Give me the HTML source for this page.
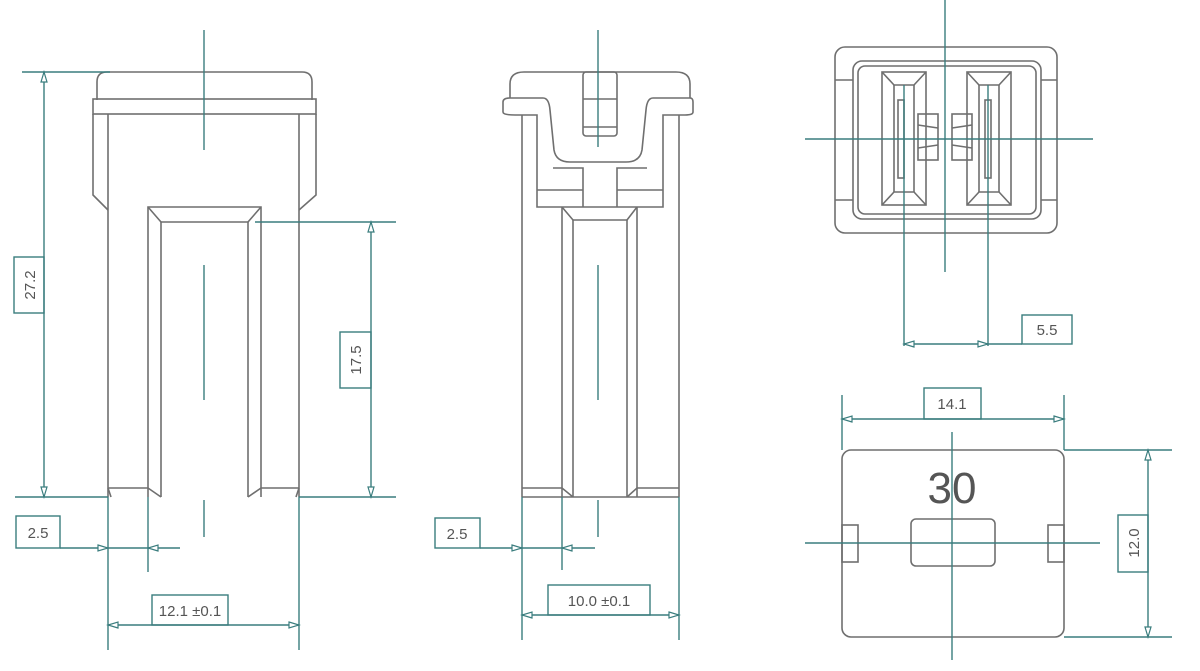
<!DOCTYPE html>
<html><head><meta charset="utf-8"><style>
html,body{margin:0;padding:0;background:#fff;}
svg{display:block;}
text{font-family:"Liberation Sans",sans-serif;fill:#555;}
</style></head><body>
<svg width="1200" height="671" viewBox="0 0 1200 671" xmlns="http://www.w3.org/2000/svg">
<defs>
<marker id="a" viewBox="0 0 10 8" refX="10" refY="4" markerWidth="14" markerHeight="8" markerUnits="userSpaceOnUse" orient="auto-start-reverse">
<path d="M0,1 L10,4 L0,7 Z" fill="#fff" stroke="#3a7d7e" stroke-width="1.2"/>
</marker>
</defs>
<g fill="none" stroke="#6f6f6f" stroke-width="1.6">
<!-- LEFT VIEW -->
<path d="M97,100 L97,82 Q97,72 107,72 L302,72 Q312,72 312,82 L312,100"/>
<rect x="93" y="99" width="223" height="15"/>
<path d="M93,114 L93,195 L108,210"/>
<path d="M316,114 L316,195 L299,210"/>
<line x1="108" y1="114" x2="108" y2="497"/>
<line x1="299" y1="114" x2="299" y2="497"/>
<path d="M148,497 L148,207 L261,207 L261,497"/>
<path d="M161,497 L161,222 L248,222 L248,497"/>
<path d="M148,207 L161,222 M261,207 L248,222"/>
<path d="M108,488 L148,488 L161,497 M299,488 L261,488 L248,497"/>
<path d="M108,488 L111,497 M299,488 L296,497"/>
<!-- MIDDLE VIEW -->
<path d="M510,98 L510,84 Q510,72 524,72 L676,72 Q690,72 690,84 L690,98"/>
<path d="M503,112 L503,102 Q503,98 510,98 L543,98 Q549,98 550,110 L554,150 Q556,162 570,162 L626,162 Q640,162 642,150 L646,110 Q647,98 653,98 L690,98 Q693,98 693,102 L693,112 Q693,115 685,115 L663,115 L663,207 L537,207 L537,115 L515,115 Q503,115 503,112 Z"/>
<rect x="583" y="72" width="34" height="64" rx="3"/>
<path d="M583,99 L617,99 M583,127 L617,127"/>
<path d="M553,168 L583,168 L583,207 M617,207 L617,168 L647,168"/>
<path d="M537,190 L583,190 M617,190 L663,190"/>
<line x1="522" y1="115" x2="522" y2="497"/>
<line x1="679" y1="115" x2="679" y2="497"/>
<path d="M562,497 L562,207 M637,497 L637,207"/>
<path d="M573,497 L573,220 L627,220 L627,497"/>
<path d="M562,207 L573,220 M637,207 L627,220"/>
<path d="M522,488 L562,488 L573,497 M679,488 L637,488 L627,497 M522,497 L679,497"/>
<!-- TOP RIGHT VIEW -->
<rect x="835" y="47" width="222" height="186" rx="10"/>
<rect x="853" y="61" width="188" height="158" rx="9"/>
<rect x="858" y="66" width="178" height="148" rx="7"/>
<path d="M835,80 L853,80 M835,200 L853,200 M1041,80 L1057,80 M1041,200 L1057,200"/>
<rect x="882" y="72" width="44" height="133"/>
<path d="M882,72 L894,85 L914,85 L926,72 M882,205 L894,192 L914,192 L926,205"/>
<path d="M894,85 L894,192 M914,85 L914,192"/>
<rect x="898" y="100" width="6" height="78"/>
<rect x="918" y="114" width="20" height="46"/>
<path d="M918,125 L938,128 M918,148 L938,145"/>
<rect x="967" y="72" width="44" height="133"/>
<path d="M967,72 L979,85 L999,85 L1011,72 M967,205 L979,192 L999,192 L1011,205"/>
<path d="M979,85 L979,192 M999,85 L999,192"/>
<rect x="985" y="100" width="6" height="78"/>
<rect x="952" y="114" width="20" height="46"/>
<path d="M952,128 L972,125 M952,145 L972,148"/>
<!-- BOTTOM RIGHT VIEW -->
<rect x="842" y="450" width="222" height="187" rx="9"/>
<rect x="842" y="525" width="16" height="37"/>
<rect x="1048" y="525" width="16" height="37"/>
<rect x="911" y="519" width="84" height="47" rx="5"/>
</g>
<text x="952" y="503" font-size="44" text-anchor="middle" fill="#666">30</text>

<g fill="none" stroke="#3a7d7e" stroke-width="1.4">
<!-- centre lines -->
<line x1="204" y1="30" x2="204" y2="150"/>
<line x1="204" y1="265" x2="204" y2="400"/>
<line x1="204" y1="500" x2="204" y2="537"/>
<line x1="598" y1="30" x2="598" y2="147"/>
<line x1="598" y1="265" x2="598" y2="400"/>
<line x1="598" y1="500" x2="598" y2="537"/>
<line x1="945" y1="0" x2="945" y2="272"/>
<line x1="805" y1="139" x2="1093" y2="139"/>
<line x1="904" y1="85" x2="904" y2="346"/>
<line x1="988" y1="85" x2="988" y2="346"/>
<line x1="952" y1="432" x2="952" y2="660"/>
<line x1="805" y1="543" x2="1100" y2="543"/>
<!-- 27.2 -->
<line x1="22" y1="72" x2="110" y2="72"/>
<line x1="15" y1="497" x2="108" y2="497"/>
<line x1="44" y1="72" x2="44" y2="497" marker-start="url(#a)" marker-end="url(#a)"/>
<rect x="14" y="257" width="30" height="56"/>
<!-- 17.5 -->
<line x1="255" y1="222" x2="396" y2="222"/>
<line x1="299" y1="497" x2="396" y2="497"/>
<line x1="371" y1="222" x2="371" y2="497" marker-start="url(#a)" marker-end="url(#a)"/>
<rect x="340" y="332" width="31" height="56"/>
<!-- left bottom dims -->
<line x1="108" y1="497" x2="108" y2="650"/>
<line x1="299" y1="497" x2="299" y2="650"/>
<line x1="148" y1="497" x2="148" y2="572"/>
<rect x="16" y="516" width="44" height="32"/>
<line x1="60" y1="548" x2="108" y2="548" marker-end="url(#a)"/>
<line x1="180" y1="548" x2="148" y2="548" marker-end="url(#a)"/>
<line x1="108" y1="548" x2="148" y2="548"/>
<rect x="152" y="595" width="76" height="30"/>
<line x1="108" y1="625" x2="299" y2="625" marker-start="url(#a)" marker-end="url(#a)"/>
<!-- middle bottom dims -->
<line x1="522" y1="497" x2="522" y2="640"/>
<line x1="679" y1="497" x2="679" y2="640"/>
<line x1="562" y1="497" x2="562" y2="570"/>
<rect x="435" y="518" width="45" height="30"/>
<line x1="480" y1="548" x2="522" y2="548" marker-end="url(#a)"/>
<line x1="595" y1="548" x2="562" y2="548" marker-end="url(#a)"/>
<line x1="522" y1="548" x2="562" y2="548"/>
<rect x="548" y="585" width="102" height="30"/>
<line x1="522" y1="615" x2="679" y2="615" marker-start="url(#a)" marker-end="url(#a)"/>
<!-- 5.5 -->
<line x1="904" y1="344" x2="988" y2="344" marker-start="url(#a)" marker-end="url(#a)"/>
<line x1="988" y1="344" x2="1022" y2="344"/>
<rect x="1022" y="315" width="50" height="29"/>
<!-- 14.1 -->
<line x1="842" y1="395" x2="842" y2="450"/>
<line x1="1064" y1="395" x2="1064" y2="450"/>
<line x1="842" y1="419" x2="1064" y2="419" marker-start="url(#a)" marker-end="url(#a)"/>
<rect x="924" y="388" width="57" height="31"/>
<!-- 12.0 -->
<line x1="1064" y1="450" x2="1172" y2="450"/>
<line x1="1064" y1="637" x2="1172" y2="637"/>
<line x1="1148" y1="450" x2="1148" y2="637" marker-start="url(#a)" marker-end="url(#a)"/>
<rect x="1118" y="515" width="30" height="57"/>
</g>
<g font-size="15">
<text x="0" y="0" transform="translate(35,285) rotate(-90)" text-anchor="middle">27.2</text>
<text x="0" y="0" transform="translate(361,360) rotate(-90)" text-anchor="middle">17.5</text>
<text x="0" y="0" transform="translate(1139,543) rotate(-90)" text-anchor="middle">12.0</text>
<text x="38" y="538" text-anchor="middle">2.5</text>
<text x="457" y="539" text-anchor="middle">2.5</text>
<text x="190" y="616" text-anchor="middle">12.1 ±0.1</text>
<text x="599" y="606" text-anchor="middle">10.0 ±0.1</text>
<text x="1047" y="335" text-anchor="middle">5.5</text>
<text x="952" y="409" text-anchor="middle">14.1</text>
</g>
</svg>
</body></html>
